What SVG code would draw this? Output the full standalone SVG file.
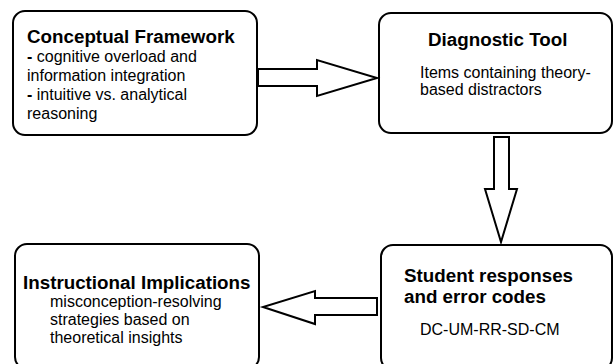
<svg xmlns="http://www.w3.org/2000/svg" width="614" height="364" viewBox="0 0 614 364">
<style>
.box{fill:#fff;stroke:#000;stroke-width:2}
.arr{fill:#fff;stroke:#000;stroke-width:2;stroke-linejoin:miter}
text{font-family:"Liberation Sans",Arial,sans-serif;fill:#000}
.t{font-size:18.8px;font-weight:bold}
.b{font-size:16px}
</style>
<rect width="614" height="364" fill="#fff"/>
<g id="conceptual-framework">
<rect class="box" x="13" y="11" width="244" height="124" rx="12"/>
<text class="t" x="27" y="43">Conceptual Framework</text>
<text class="b" x="27" y="62"><tspan font-weight="bold">-</tspan> cognitive overload and</text>
<text class="b" x="27" y="81">information integration</text>
<text class="b" x="27" y="100"><tspan font-weight="bold">-</tspan> intuitive vs. analytical</text>
<text class="b" x="27" y="119">reasoning</text>
</g>
<g id="diagnostic-tool">
<rect class="box" x="379" y="13" width="233" height="120" rx="12"/>
<text class="t" x="428" y="46">Diagnostic Tool</text>
<text class="b" x="420" y="78">Items containing theory-</text>
<text class="b" x="420" y="95">based distractors</text>
</g>
<g id="student-responses">
<rect class="box" x="381" y="245" width="231" height="125" rx="12"/>
<text class="t" x="404" y="282">Student responses</text>
<text class="t" x="404" y="303">and error codes</text>
<text class="b" x="420" y="335">DC-UM-RR-SD-CM</text>
</g>
<g id="instructional-implications">
<rect class="box" x="15" y="244" width="244" height="125" rx="12"/>
<text class="t" x="23" y="289">Instructional Implications</text>
<text class="b" x="50" y="307">misconception-resolving</text>
<text class="b" x="50" y="325">strategies based on</text>
<text class="b" x="50" y="343">theoretical insights</text>
</g>
<g id="connectors">
<polygon class="arr" points="258,69 317,69 317,60 377,78 317,96 317,86 258,86"/>
<polygon class="arr" points="494,137 509,137 509,189 517,189 501,242 485,189 494,189"/>
<polygon class="arr" points="377,298 315,298 315,291 263,307 315,324 315,315 377,315"/>
</g>
</svg>
